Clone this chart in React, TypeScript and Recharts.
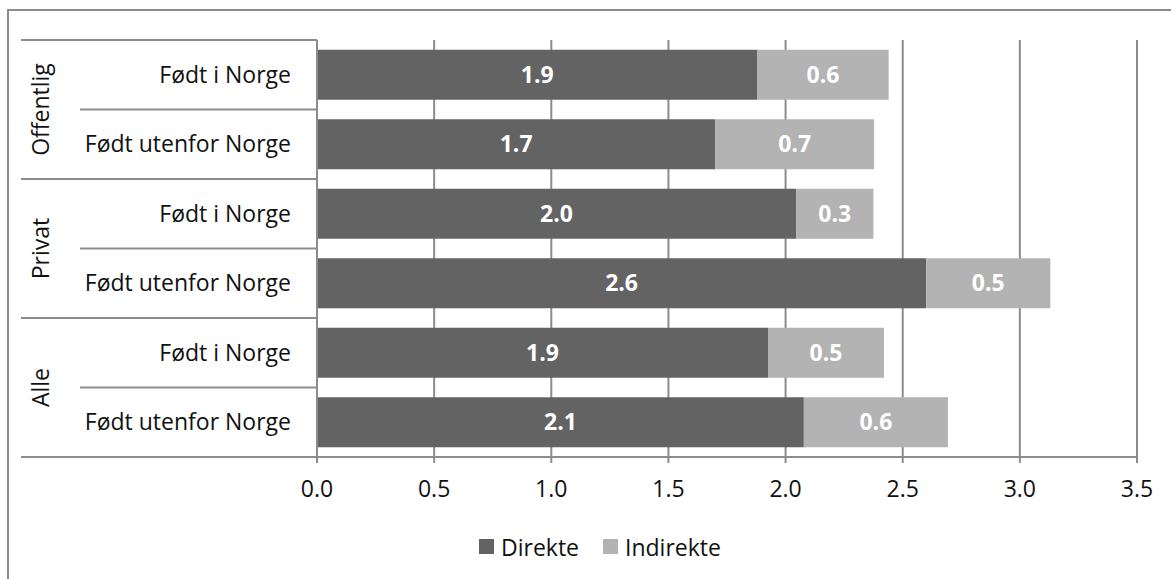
import { BarChart, Bar, XAxis, YAxis, CartesianGrid, Legend, LabelList } from 'recharts'

const groups = ['Offentlig', 'Privat', 'Alle']
const origins = ['Født i Norge', 'Født utenfor Norge']
const direkte = [1.88, 1.7, 2.045, 2.6, 1.925, 2.078]
const indirekte = [0.56, 0.678, 0.33, 0.53, 0.495, 0.615]
const xTicks = [0, 0.5, 1, 1.5, 2, 2.5, 3, 3.5]

const rows = groups.flatMap((g, gi) =>
  origins.map((o, oi) => {
    const i = gi * origins.length + oi
    return { key: `${g}|${o}`, group: g, origin: o, direkte: direkte[i], indirekte: indirekte[i] }
  })
)

const FONT = '"Open Sans", "Noto Sans", sans-serif'
const LINE = '#8c8c8c'
const DARK = '#636363'
const LIGHT = '#b3b3b3'

const CHART_W = 1171
const CHART_H = 579
const TOP = 40
const PLOT_BOTTOM = 457
const AXIS_W = 317
const ROW_H = (PLOT_BOTTOM - TOP) / rows.length

const CategoryTick = (props: any) => {
  const { y, index } = props
  const row = rows[index]
  if (!row) return null
  const firstInGroup = index % origins.length === 0
  const last = index === rows.length - 1
  return (
    <g>
      <line
        x1={firstInGroup ? 21 : 80}
        x2={AXIS_W}
        y1={y - ROW_H / 2}
        y2={y - ROW_H / 2}
        stroke={LINE}
        strokeWidth={2}
      />
      {last && (
        <line x1={21} x2={AXIS_W} y1={y + ROW_H / 2} y2={y + ROW_H / 2} stroke={LINE} strokeWidth={2} />
      )}
      <text x={291} y={y} dy="0.35em" textAnchor="end" fontFamily={FONT} fontSize={23} fill="#111">
        {row.origin}
      </text>
      {firstInGroup && (
        <text
          x={41}
          y={y + ROW_H / 2}
          dy="0.35em"
          textAnchor="middle"
          fontFamily={FONT}
          fontSize={23}
          fill="#111"
          transform={`rotate(-90, 41, ${y + ROW_H / 2})`}
        >
          {row.group}
        </text>
      )}
    </g>
  )
}

const LegendContent = () => (
  <div
    style={{
      height: 72,
      boxSizing: 'border-box',
      paddingTop: 7,
      display: 'flex',
      alignItems: 'center',
      paddingLeft: 479,
      fontFamily: FONT,
      fontSize: 23,
      color: '#111',
    }}
  >
    {[
      { name: 'Direkte', color: DARK },
      { name: 'Indirekte', color: LIGHT },
    ].map((it) => (
      <div key={it.name} style={{ display: 'flex', alignItems: 'center', marginRight: 24 }}>
        <div style={{ width: 15, height: 15, backgroundColor: it.color, marginRight: 7 }} />
        <span>{it.name}</span>
      </div>
    ))}
  </div>
)

export default function App() {
  return (
    <div
      style={{
        position: 'absolute',
        left: 0,
        top: 0,
        width: CHART_W,
        height: CHART_H,
        overflow: 'hidden',
        background: '#fff',
      }}
    >
      <div
        style={{
          position: 'absolute',
          left: 7,
          top: 9,
          width: 1300,
          height: 700,
          borderLeft: `2px solid ${LINE}`,
          borderTop: `2px solid ${LINE}`,
        }}
      />
      <BarChart
        width={CHART_W}
        height={CHART_H}
        data={rows}
        layout="vertical"
        barCategoryGap="14%"
        margin={{ top: TOP, right: 34, bottom: 0, left: 0 }}
        style={{ position: 'absolute', left: 0, top: 0 }}
      >
        <CartesianGrid vertical horizontal={false} stroke={LINE} strokeWidth={2} />
        <XAxis
          type="number"
          domain={[0, 3.5]}
          ticks={xTicks}
          tickFormatter={(v: number) => v.toFixed(1)}
          height={50}
          tickSize={6}
          tickMargin={18}
          axisLine={{ stroke: LINE, strokeWidth: 2 }}
          tickLine={{ stroke: LINE, strokeWidth: 2 }}
          tick={{ fill: '#111', fontSize: 23, fontFamily: FONT }}
        />
        <YAxis
          type="category"
          dataKey="key"
          width={AXIS_W}
          tickLine={false}
          axisLine={{ stroke: LINE, strokeWidth: 2 }}
          tick={<CategoryTick />}
          interval={0}
        />
        <Legend verticalAlign="bottom" content={<LegendContent />} wrapperStyle={{ left: 0, width: CHART_W }} />
        <Bar dataKey="direkte" name="Direkte" stackId="a" fill={DARK} isAnimationActive={false}>
          <LabelList
            dataKey="direkte"
            position="center"
            formatter={(v: any) => Number(v).toFixed(1)}
            fill="#fff"
            fontWeight="bold"
            fontSize={23}
            fontFamily={FONT}
          />
        </Bar>
        <Bar dataKey="indirekte" name="Indirekte" stackId="a" fill={LIGHT} isAnimationActive={false}>
          <LabelList
            dataKey="indirekte"
            position="center"
            formatter={(v: any) => Number(v).toFixed(1)}
            fill="#fff"
            fontWeight="bold"
            fontSize={23}
            fontFamily={FONT}
          />
        </Bar>
      </BarChart>
    </div>
  )
}
